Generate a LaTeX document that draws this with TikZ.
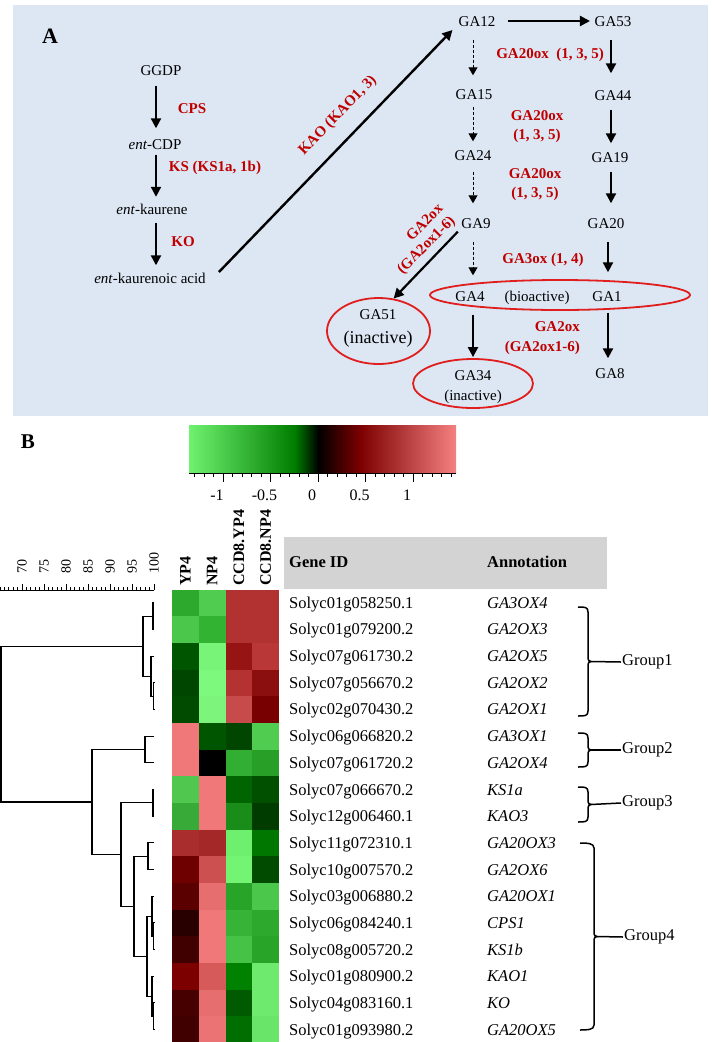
\documentclass[tikz,border=0pt]{standalone}
\usepackage{fontspec}
\setmainfont{Liberation Serif}
\usetikzlibrary{arrows.meta,shapes.geometric,calc}
\definecolor{bgA}{RGB}{220,231,243}
\definecolor{enz}{RGB}{192,0,0}
\definecolor{ellr}{RGB}{225,30,30}
\definecolor{hdr}{RGB}{211,211,211}
\definecolor{cgl}{RGB}{112,242,112}
\definecolor{cg}{RGB}{0,125,0}
\definecolor{cm}{RGB}{125,0,0}
\definecolor{cp}{RGB}{245,128,128}
\newcommand\hrow[5]{%
 \definecolor{hc0}{RGB}{#2}\definecolor{hc1}{RGB}{#3}\definecolor{hc2}{RGB}{#4}\definecolor{hc3}{RGB}{#5}%
 \foreach \c in {0,1,2,3}{\fill[hc\c] ({172+26.75*\c},{589.5+26.67*#1}) rectangle ({172+26.75*(\c+1)},{589.5+26.67*(#1+1)});}}
\newcommand\mrg[5]{\draw[dend] (#3,#2) -- (#1,#2) -- (#1,#4) -- (#5,#4);}
\newcommand\grpbrace[4]{\draw[brk] (#1,#2) .. controls ({#1+7},#2) and ({#3},{#2}) .. ({#3},{#2+5}) -- ({#3},{(#2+#4)/2-5}) .. controls ({#3},{(#2+#4)/2-1}) and ({#3+1},{(#2+#4)/2}) .. ({#3+3},{(#2+#4)/2}) .. controls ({#3+1},{(#2+#4)/2}) and ({#3},{(#2+#4)/2+1}) .. ({#3},{(#2+#4)/2+5}) -- ({#3},{#4-5}) .. controls ({#3},#4) and ({#1+7},#4) .. (#1,#4);}
\begin{document}
\begin{tikzpicture}[x=1pt,y=-1pt,
 met/.style={font=\fontsize{15}{18}\selectfont, inner sep=2pt, text height=10pt, text depth=0pt},
 enz/.style={font=\fontsize{15}{19}\selectfont\bfseries, text=enz, inner sep=1pt, align=center},
 arr/.style={line width=2.2pt, -{Triangle[length=10pt,width=10pt]}},
 darr/.style={line width=0.9pt, dash pattern=on 3pt off 2pt, -{Triangle[length=8pt,width=9pt]}},
 ell/.style={ellipse, draw=ellr, line width=1.8pt, inner sep=0pt},
 tbl/.style={font=\fontsize{16.5}{19}\selectfont, inner sep=0pt, text height=11pt, text depth=0pt, anchor=west},
 dend/.style={line width=1.1pt},
 brk/.style={line width=1.5pt},
 grp/.style={font=\fontsize{16.5}{19}\selectfont, inner sep=1pt, anchor=west},
 tick/.style={line width=0.8pt},
]
\useasboundingbox (0,0) rectangle (712,1042);
% ---------------- Panel A ----------------
\fill[bgA] (13,5) rectangle (708,416);
\node[font=\fontsize{22}{24}\selectfont\bfseries] (labA) at (50,36) {A};

\node[met] (ggdp) at (161,70) {GGDP};
\node[met] (cdp) at (155,144) {\textit{ent}-CDP};
\node[met] (kaur) at (152,209) {\textit{ent}-kaurene};
\node[met] (kacid) at (150,278) {\textit{ent}-kaurenoic acid};
\coordinate (colA) at (156,0);
\draw[arr, shorten <=8.5pt, shorten >=8.5pt] (ggdp.south -| colA) -- (cdp.north -| colA);
\draw[arr, shorten <=3.5pt, shorten >=5pt] (cdp.south -| colA) -- (kaur.north -| colA);
\draw[arr, shorten <=6.5pt, shorten >=5.5pt] (kaur.south -| colA) -- (kacid.north -| colA);
\node[enz] (cps) at (192,109) {CPS};
\node[enz] (ks) at (215,168) {KS (KS1a, 1b)};
\node[enz] (ko) at (183,242) {KO};

\node[met] (ga12) at (477,21) {GA12};
\node[met] (ga53) at (613,21) {GA53};
\node[met] (ga15) at (474,94) {GA15};
\node[met] (ga44) at (613,95) {GA44};
\node[met] (ga24) at (473,155) {GA24};
\node[met] (ga19) at (610,157) {GA19};
\node[met] (ga9) at (476,223) {GA9};
\node[met] (ga20) at (606,223) {GA20};
\node[ell, minimum width=260pt, minimum height=30pt] (bioell) at (560,295) {};
\node[met] (ga4) at (470,296) {GA4};
\node[met] (bio) at (537,296) {(bioactive)};
\node[met] (ga1) at (607,296) {GA1};
\node[met] (ga8) at (610,373) {GA8};
\node[ell, minimum width=103pt, minimum height=66pt] (ga51ell) at (378.5,331) {};
\node[met] (ga51) at (378,314) {GA51};
\node[met, font=\fontsize{18}{20}\selectfont] (ga51i) at (378,338) {(inactive)};
\node[ell, minimum width=120pt, minimum height=49pt] (ga34ell) at (473,383.5) {};
\node[met] (ga34) at (473,375) {GA34};
\node[met] (ga34i) at (473,395) {(inactive)};

\coordinate (kstart) at ($(kacid.east)+(11,-6)$);
\coordinate (kend) at ($(ga12.west)+(-4,9)$);
\draw[arr, line width=2.4pt] (kstart) -- (kend) node[enz, sloped, pos=0.58, above=14pt] (kao) {KAO (KAO1, 3)};

\draw[arr, shorten <=10pt, shorten >=2.5pt] (ga12.east) -- (ga53.west);
\coordinate (colL) at (473,0);
\coordinate (colR) at (611,0);
\draw[darr, shorten <=11.5pt, shorten >=11.5pt] (ga12.south -| colL) -- (ga15.north -| colL);
\draw[darr, shorten <=5.5pt, shorten >=6.5pt] (ga15.south -| colL) -- (ga24.north -| colL);
\draw[darr, shorten <=9.5pt, shorten >=12.5pt] (ga24.south -| colL) -- (ga9.north -| colL);
\draw[darr, shorten <=11.5pt, shorten >=13.5pt] (ga9.south -| colL) -- (ga4.north -| colL);
\draw[arr, shorten <=11.5pt, shorten >=1pt] (ga4.south -| colL) -- (ga34ell.north -| colL);
\draw[arr, shorten <=11.5pt, shorten >=14.5pt] (ga53.south -| colR) -- (ga44.north -| colR);
\draw[arr, shorten <=7.5pt, shorten >=6.5pt] (ga44.south -| colR) -- (ga19.north -| colR);
\draw[arr, shorten <=7.5pt, shorten >=12.5pt] (ga19.south -| colR) -- (ga20.north -| colR);
\coordinate (colR2) at (608,0);
\draw[arr, shorten <=11.5pt, shorten >=16.5pt] (ga20.south -| colR2) -- (ga1.north -| colR2);
\draw[arr, shorten <=9.5pt, shorten >=7.5pt] (ga1.south -| colR2) -- (ga8.north -| colR2);
\draw[arr, shorten <=2pt] (ga9.south west) -- (ga51ell.65);

\node[enz] (e1) at (550,55) {GA20ox\ \ (1, 3, 5)};
\node[enz] (e2) at (537,126.5) {GA20ox\\(1, 3, 5)};
\node[enz] (e3) at (535,185) {GA20ox\\(1, 3, 5)};
\node[enz] (e4) at (543,260) {GA3ox (1, 4)};
\node[enz, anchor=east, align=right, font=\fontsize{15}{20}\selectfont\bfseries] (e5) at (581,338) {GA2ox\\(GA2ox1-6)};
\node[enz, rotate=45, align=right, font=\fontsize{15}{17}\selectfont\bfseries] (e6) at (420.7,239.8) {GA2ox\\(GA2ox1-6)};

% ---------------- Panel B ----------------
\node[font=\fontsize{21}{23}\selectfont\bfseries] (labB) at (28,442) {B};

% colour bar
\shade[left color=cgl, right color=cg] (189,425) rectangle (295.5,473);
\shade[left color=cg, right color=black] (295,425) rectangle (318.5,473);
\shade[left color=black, right color=cm] (318,425) rectangle (360.5,473);
\shade[left color=cm, right color=cp] (360,425) rectangle (456,473);
\draw[tick] (189,473) -- (456,473);
\foreach \v in {-13,...,14}{\draw[tick] ({318+9.5*\v},473) -- ({318+9.5*\v},477);}
\foreach \v in {-10,-5,0,5,10}{\draw[tick] ({318+9.5*\v},473) -- ({318+9.5*\v},482);}
\foreach \v/\t in {-10/-1,-5/-0.5,0/0,5/0.5,10/1}{
 \node[font=\fontsize{16}{18}\selectfont, inner sep=0pt] (cb\v) at ({312+9.5*\v},495) {\t};}

% dendrogram scale
\draw[tick] (0,590) -- (154,590);
\foreach \v in {65,...,100}{\draw[tick] ({154-4.4*(100-\v)},590) -- ({154-4.4*(100-\v)},587);}
\foreach \v in {70,75,...,100}{
 \draw[tick] ({154-4.4*(100-\v)},590) -- ({154-4.4*(100-\v)},584);
 \node[font=\fontsize{14}{16}\selectfont, rotate=90, anchor=west, inner sep=1pt] (sc\v) at ({154-4.4*(100-\v)},575) {\v};}

% dendrogram
\mrg{153}{602.8}{154}{629.5}{154}
\mrg{153.5}{682.8}{154}{709.5}{154}
\mrg{151}{656.1}{154}{696.2}{153.5}
\mrg{143}{616.2}{153}{676.2}{151}
\mrg{145}{736.2}{154}{762.8}{154}
\mrg{153}{789.5}{154}{816.2}{154}
\mrg{148}{842.8}{154}{869.5}{154}
\mrg{153.5}{922.8}{154}{949.5}{154}
\mrg{152}{896.2}{154}{936.2}{153.5}
\mrg{153.5}{1002.8}{154}{1029.5}{154}
\mrg{152}{976.2}{154}{1016.2}{153.5}
\mrg{147}{916.2}{152}{996.2}{152}
\mrg{134}{856.2}{148}{956.2}{147}
\mrg{121}{802.8}{153}{906.2}{134}
\mrg{92}{749.5}{145}{854.5}{121}
\mrg{1}{646.2}{143}{802}{92}

% heatmap headers
\foreach \x/\t/\n in {185.4/YP4/h1,212.1/NP4/h2,238.9/CCD8.YP4/h3,265.6/CCD8.NP4/h4}{
 \node[font=\fontsize{16}{18}\selectfont\bfseries, rotate=90, anchor=west, inner sep=1pt] (\n) at (\x,587) {\t};}

% heatmap cells
\hrow{0}{45,170,45}{80,205,80}{178,50,50}{178,50,50}
\hrow{1}{75,200,75}{50,180,50}{178,50,50}{178,50,50}
\hrow{2}{0,85,0}{120,245,120}{150,20,20}{185,55,55}
\hrow{3}{0,70,0}{125,250,125}{180,50,50}{140,15,15}
\hrow{4}{0,75,0}{125,245,125}{200,75,75}{120,0,0}
\hrow{5}{240,120,120}{0,85,0}{0,70,0}{80,205,80}
\hrow{6}{240,120,120}{0,0,0}{50,175,50}{40,160,40}
\hrow{7}{80,200,80}{240,120,120}{0,100,0}{0,80,0}
\hrow{8}{55,170,55}{240,120,120}{25,140,25}{0,60,0}
\hrow{9}{170,45,45}{165,40,40}{110,240,110}{0,120,0}
\hrow{10}{110,0,0}{205,80,80}{115,245,115}{0,75,0}
\hrow{11}{90,0,0}{230,110,110}{40,165,40}{75,200,75}
\hrow{12}{40,0,0}{240,120,120}{55,180,55}{45,170,45}
\hrow{13}{65,0,0}{240,120,120}{70,195,70}{40,165,40}
\hrow{14}{125,0,0}{215,90,90}{0,130,0}{110,235,110}
\hrow{15}{70,0,0}{230,110,110}{0,90,0}{110,235,110}
\hrow{16}{65,0,0}{235,115,115}{0,110,0}{105,230,105}

% table header
\fill[hdr] (284,537) rectangle (607,589);
\node[tbl, font=\fontsize{16.5}{19}\selectfont\bfseries] (hgid) at (289,562) {Gene ID};
\node[tbl, font=\fontsize{16.5}{19}\selectfont\bfseries] (hann) at (487,562) {Annotation};

\foreach \i/\g/\a in {0/Solyc01g058250.1/GA3OX4,1/Solyc01g079200.2/GA2OX3,2/Solyc07g061730.2/GA2OX5,
 3/Solyc07g056670.2/GA2OX2,4/Solyc02g070430.2/GA2OX1,5/Solyc06g066820.2/GA3OX1,6/Solyc07g061720.2/GA2OX4,
 7/Solyc07g066670.2/KS1a,8/Solyc12g006460.1/KAO3,9/Solyc11g072310.1/GA20OX3,10/Solyc10g007570.2/GA2OX6,
 11/Solyc03g006880.2/GA20OX1,12/Solyc06g084240.1/CPS1,13/Solyc08g005720.2/KS1b,14/Solyc01g080900.2/KAO1,
 15/Solyc04g083160.1/KO,16/Solyc01g093980.2/GA20OX5}{
 \node[tbl] (gid\i) at (289,{602.8+26.67*\i}) {\g};
 \node[tbl] (ann\i) at (487,{602.8+26.67*\i}) {\textit{\a}};}

% brackets
\node[grp] (g1) at (621,662) {Group1};
\node[grp] (g2) at (621,750) {Group2};
\node[grp] (g3) at (621,803) {Group3};
\node[grp] (g4) at (623,937) {Group4};
\grpbrace{578}{607}{588}{716}
\coordinate (b1) at (591,661.5);
\draw[line width=1.5pt] (b1) -- (g1.west);
\grpbrace{578}{733}{588}{767}
\coordinate (b2) at (591,750);
\draw[line width=1.5pt] (b2) -- (g2.west);
\grpbrace{578}{787}{588}{822}
\coordinate (b3) at (591,804.5);
\draw[line width=1.5pt] (b3) -- (g3.west);
\grpbrace{580}{843}{594}{1030}
\coordinate (b4) at (597,936.5);
\draw[line width=1.5pt] (b4) -- (g4.west);
\end{tikzpicture}
\end{document}
